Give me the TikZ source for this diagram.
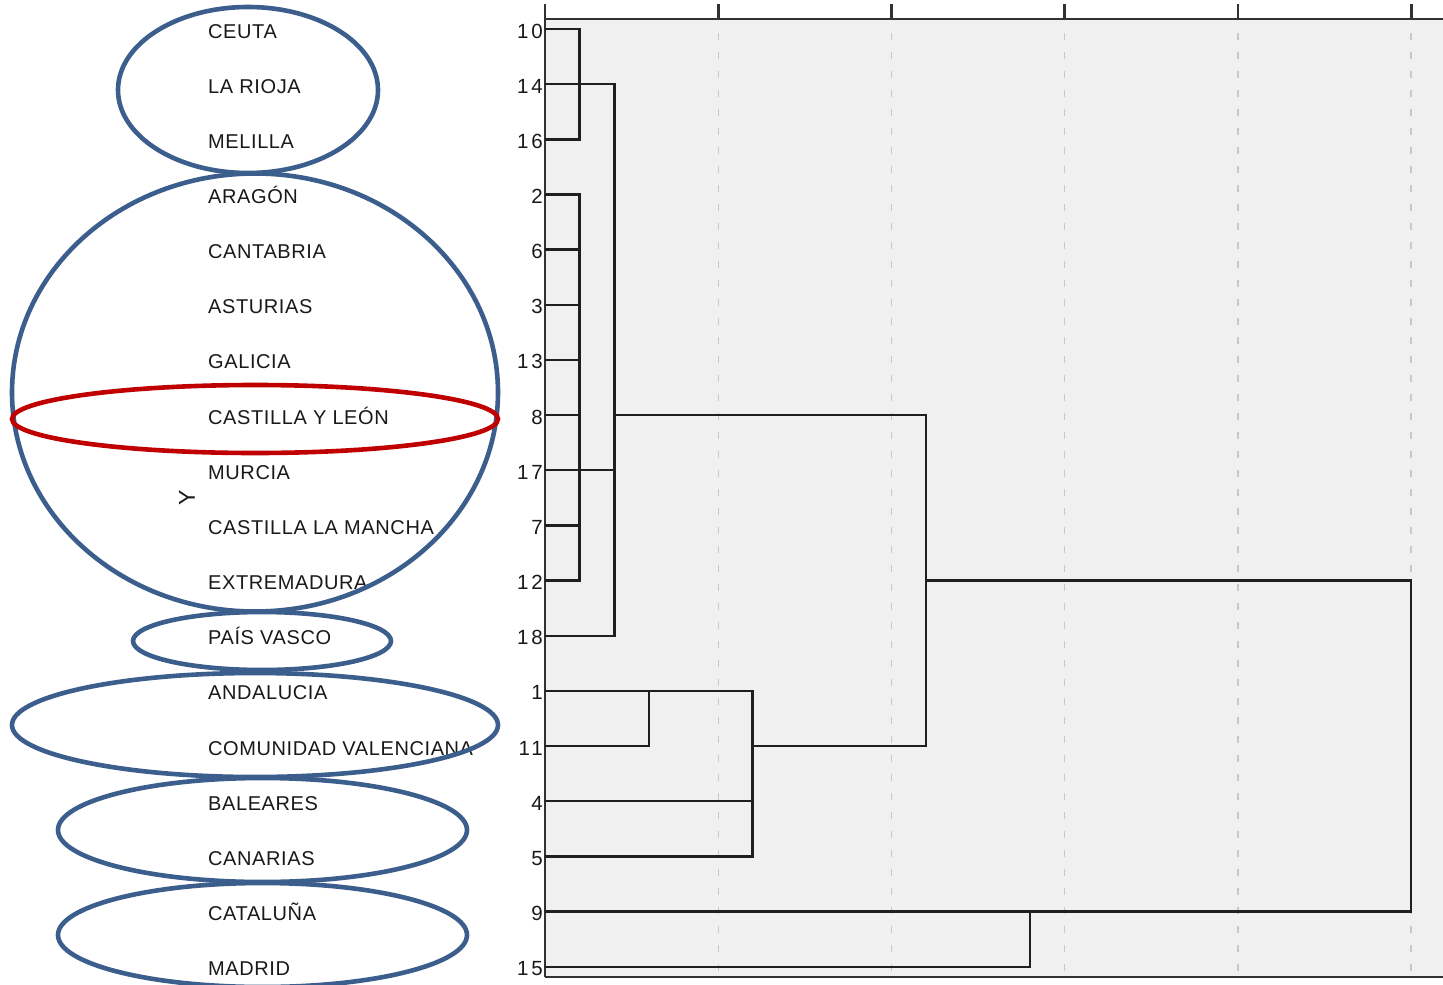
\documentclass[tikz,border=0pt]{standalone}
\usepackage{fontspec}
\setmainfont{Liberation Sans}[LetterSpace=3]
\newfontfamily\numfont{Liberation Sans}[LetterSpace=14]
\definecolor{ellblue}{RGB}{59,94,140}
\definecolor{ellred}{RGB}{192,0,0}
\definecolor{plotbg}{RGB}{240,240,240}
\definecolor{gridc}{RGB}{200,200,200}
\definecolor{axisc}{RGB}{50,50,50}
\begin{document}
\begin{tikzpicture}[x=1pt,y=-1pt,
  lbl/.style={inner sep=0pt,font=\fontsize{20}{24}\selectfont,text=black!90},
  numl/.style={inner sep=0pt,font=\numfont\fontsize{20.5}{24}\selectfont,text=black!90},
  dend/.style={line width=2.4pt,black!88},
  grp/.style={line width=4.6pt,ellblue},
  grpred/.style={line width=4.6pt,ellred},
  gridl/.style={gridc,line width=1.5pt,dash pattern=on 7pt off 12pt},
  axisl/.style={axisc,line width=2.8pt}]
\useasboundingbox (0,0) rectangle (1443,985);
\fill[white] (0,0) rectangle (1443,985);
% plot area
\fill[plotbg] (545,19) rectangle (1443,976);
\foreach \gx in {718.3,891.5,1064.7,1238,1411.2}{
  \draw[gridl] (\gx,33) -- (\gx,976);
  \draw[axisl] (\gx,4) -- (\gx,19);
}
\draw[axisl] (545,19) -- (1443,19);
\draw[axisl] (545,4) -- (545,977);
\draw[axisc,line width=2pt] (545,976.5) -- (1443,976.5);
% rows
\foreach \i/\nm/\num in {0/CEUTA/10,1/LA RIOJA/14,2/MELILLA/16,3/ARAGÓN/2,
  4/CANTABRIA/6,5/ASTURIAS/3,6/GALICIA/13,7/CASTILLA Y LEÓN/8,8/MURCIA/17,
  9/CASTILLA LA MANCHA/7,10/EXTREMADURA/12,11/PAÍS VASCO/18,12/ANDALUCIA/1,
  13/COMUNIDAD VALENCIANA/11,14/BALEARES/4,15/CANARIAS/5,16/CATALUÑA/9,17/MADRID/15}{
  \pgfmathsetmacro\yy{29+55.16*\i}
  \coordinate (l\i) at (545,\yy);
  \node[lbl,anchor=base west] (n\i) at (208,\yy+9) {\nm};
  \node[numl,anchor=base east] (k\i) at (543,\yy+9) {\num};
}
\node[lbl,rotate=90,font=\fontsize{23}{26}\selectfont] (ylab) at (187,498) {Y};
% merge columns
\coordinate (xa) at (579.3,0);
\coordinate (xb) at (614.3,0);
\coordinate (xc) at (649,0);
\coordinate (xd) at (752.3,0);
\coordinate (xe) at (926,0);
\coordinate (xf) at (1030,0);
\coordinate (xg) at (1411.2,0);
% dendrogram
\draw[dend] (l0) -| (l2 -| xa) -- (l2);
\draw[dend] (l3) -| (l10 -| xa) -- (l10);
\foreach \i in {4,5,6,7,9}{\draw[dend] (l\i) -- (l\i -| xa);}
\draw[dend] (l8) -- (l8 -| xb);
\draw[dend] (l1) -| (l11 -| xb) -- (l11);
\draw[dend] (l7 -| xb) -| (l13 -| xe) -- (l13 -| xd);
\draw[dend] (l12) -| (l13 -| xc) -- (l13);
\draw[dend] (l12 -| xc) -| (l15 -| xd) -- (l15);
\draw[dend] (l14) -- (l14 -| xd);
\draw[dend] (l10 -| xe) -| (l16 -| xg) -- (l16);
\draw[dend] (l17) -| (l16 -| xf);
% group ellipses
\draw[grp] (248,90) ellipse [x radius=130pt,y radius=83pt];
\draw[grp] (255,392.5) ellipse [x radius=243pt,y radius=219pt];
\draw[grpred] (255,419) ellipse [x radius=243pt,y radius=34pt];
\draw[grp] (262,641) ellipse [x radius=129pt,y radius=29pt];
\draw[grp] (255,725) ellipse [x radius=243pt,y radius=52pt];
\draw[grp] (262.5,830) ellipse [x radius=204.5pt,y radius=52pt];
\draw[grp] (262.5,935) ellipse [x radius=204.5pt,y radius=52pt];
\end{tikzpicture}
\end{document}
